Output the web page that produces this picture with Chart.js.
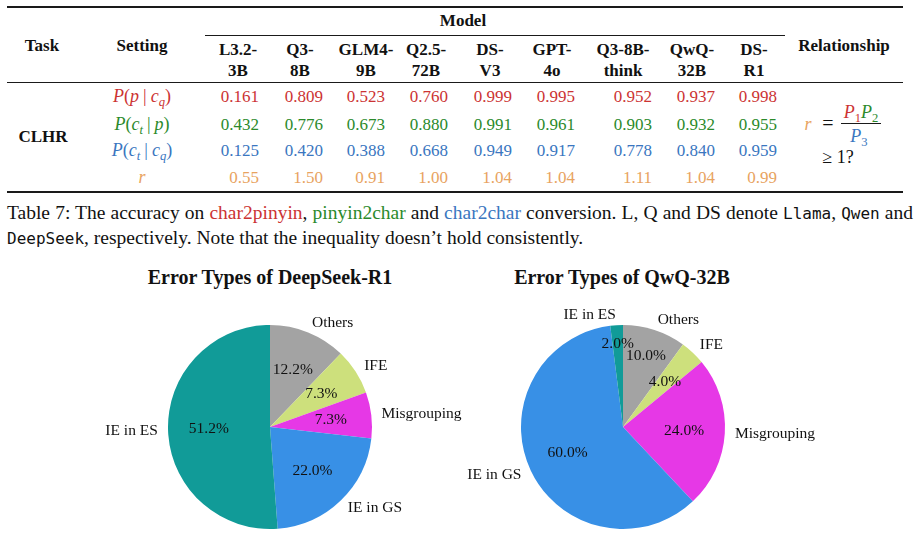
<!DOCTYPE html>
<html>
<head>
<meta charset="utf-8">
<script src="https://cdn.jsdelivr.net/npm/chart.js@4.4.1/dist/chart.umd.min.js"></script>
<style>
  body { margin: 0; width: 920px; height: 535px; background: #fff; position: relative; overflow: hidden;
         font-family: "Liberation Serif", serif; color: #111; }
  .t { position: absolute; white-space: nowrap; font-size: 17px; line-height: 1; }
  .b { font-weight: bold; }
  .m { font-size: 18px; }
  .bar { margin: 0 4px; font-style: normal; }
  .rule { position: absolute; background: #1a1a1a; }
  sub { font-size: 0.7em; vertical-align: -0.28em; line-height: 0; }
  code { font-family: "DejaVu Sans Mono", monospace; font-size: 16px; }
  .cap { position: absolute; left: 7px; font-size: 19.5px; line-height: 1; white-space: nowrap; }
  .ptitle { position: absolute; font-weight: bold; font-size: 20px; line-height: 1; transform: translate(-50%, -50%); white-space: nowrap; }
  canvas { position: absolute; }
</style>
</head>
<body>

<div class="rule" style="left:7px; width:896px; top:6px; height:2px;"></div>
<div class="rule" style="left:205px; width:580px; top:35px; height:1px;"></div>
<div class="rule" style="left:7px; width:896px; top:82px; height:1px;"></div>
<div class="rule" style="left:7px; width:896px; top:191px; height:2px;"></div>

<div id="table"></div>

<div class="cap" style="top:203px; width:906px; text-align:justify; text-align-last:justify;">Table 7: The accuracy on <span style="color:#cc3333">char2pinyin</span>, <span style="color:#2b8a2b">pinyin2char</span> and <span style="color:#3a76c0">char2char</span> conversion. L, Q and DS denote <code>Llama</code>, <code>Qwen</code> and</div>
<div class="cap" style="top:228px;"><code>DeepSeek</code>, respectively. Note that the inequality doesn’t hold consistently.</div>

<div class="ptitle" style="left:270px; top:277px;">Error Types of DeepSeek-R1</div>
<div class="ptitle" style="left:622px; top:277px;">Error Types of QwQ-32B</div>

<canvas id="pieR1" width="390" height="275" style="left:90px; top:260px;"></canvas>
<canvas id="pieQwQ" width="400" height="275" style="left:440px; top:260px;"></canvas>

<script>
// table data
const models = ['L3.2-3B', 'Q3-8B', 'GLM4-9B', 'Q2.5-72B', 'DS-V3', 'GPT-4o', 'Q3-8B-think', 'QwQ-32B', 'DS-R1'];
const pCharPinyin = [0.161, 0.809, 0.523, 0.760, 0.999, 0.995, 0.952, 0.937, 0.998];
const pPinyinChar = [0.432, 0.776, 0.673, 0.880, 0.991, 0.961, 0.903, 0.932, 0.955];
const pCharChar   = [0.125, 0.420, 0.388, 0.668, 0.949, 0.917, 0.778, 0.840, 0.959];
const rRatio      = [0.55, 1.50, 0.91, 1.00, 1.04, 1.04, 1.11, 1.04, 0.99];

// pie data (matplotlib order, counterclockwise from the top)
const errorTypes = ['IE in ES', 'IE in GS', 'Misgrouping', 'IFE', 'Others'];
const r1Shares  = [51.2, 22.0, 7.3, 7.3, 12.2];
const qwqShares = [2.0, 60.0, 24.0, 4.0, 10.0];
const sliceColors = ['#119b98', '#3890e6', '#e638e6', '#cde07c', '#a3a3a3'];

const rowColors = ['#cc3333', '#2b8a2b', '#3a76c0', '#e8a35f'];
const headX = [238, 300, 366, 426, 490, 552, 623, 692, 754];
const numRight = [259, 323, 385, 448, 512, 575, 652, 715, 777];
const rowY = [96, 124, 150, 177];

const table = document.getElementById('table');

function put(html, x, y, align, extra) {
    const d = document.createElement('div');
    d.className = 't' + (extra ? ' ' + extra : '');
    d.innerHTML = html;
    d.style.left = x + 'px';
    d.style.top = y + 'px';
    const tx = align === 'right' ? '-100%' : align === 'left' ? '0' : '-50%';
    d.style.transform = 'translate(' + tx + ', -50%)';
    table.appendChild(d);
    return d;
}

put('Model', 463, 20, 'center', 'b');
put('Task', 42, 45, 'center', 'b');
put('Setting', 142, 45, 'center', 'b');
put('Relationship', 844, 45, 'center', 'b');
put('CLHR', 43, 136, 'center', 'b');

models.forEach((m, i) => {
    const cut = m.lastIndexOf('-') + 1;
    put(m.slice(0, cut), headX[i], 49, 'center', 'b');
    put(m.slice(cut), headX[i], 70, 'center', 'b');
});

const mid = '<span class="bar">|</span>';
const settings = [
    '<i>P</i>(<i>p</i>' + mid + '<i>c</i><sub><i>q</i></sub>)',
    '<i>P</i>(<i>c</i><sub><i>t</i></sub>' + mid + '<i>p</i>)',
    '<i>P</i>(<i>c</i><sub><i>t</i></sub>' + mid + '<i>c</i><sub><i>q</i></sub>)',
    '<i>r</i>'
];
const rows = [pCharPinyin, pPinyinChar, pCharChar, rRatio];

rows.forEach((vals, r) => {
    put(settings[r], 142, rowY[r], 'center', 'm').style.color = rowColors[r];
    vals.forEach((v, i) => {
        put(v.toFixed(r === 3 ? 2 : 3), numRight[i], rowY[r], 'right').style.color = rowColors[r];
    });
});

// relationship formula
put('<i>r</i>', 808, 124, 'center', 'm').style.color = rowColors[3];
put('=', 828, 123, 'center').style.fontSize = '20px';
put('<i style="color:#cc3333">P</i><sub style="color:#cc3333">1</sub><i style="color:#2b8a2b">P</i><sub style="color:#2b8a2b">2</sub>', 861, 112, 'center', 'm');
const bar = document.createElement('div');
bar.className = 'rule';
bar.style.cssText = 'left:841px; width:40px; top:123px; height:1px;';
table.appendChild(bar);
put('<i>P</i><sub>3</sub>', 859, 136, 'center', 'm').style.color = rowColors[2];
put('≥ 1?', 838, 157, 'center', 'm');

// pies
const pieLabels = {
    id: 'pieLabels',
    afterDatasetsDraw(chart, args, opts) {
        const ctx = chart.ctx;
        const meta = chart.getDatasetMeta(0);
        const vals = chart.data.datasets[0].data;
        const total = vals.reduce((a, b) => a + b, 0);
        ctx.save();
        ctx.font = '15.5px "Liberation Serif"';
        ctx.fillStyle = '#111';
        ctx.textBaseline = 'middle';
        meta.data.forEach((arc, i) => {
            const m = (arc.startAngle + arc.endAngle) / 2;
            const r = arc.outerRadius;
            const pd = opts.pctDist ? opts.pctDist[i] : 0.6;
            ctx.textAlign = 'center';
            ctx.fillText((vals[i] / total * 100).toFixed(1) + '%',
                arc.x + Math.cos(m) * r * pd, arc.y + Math.sin(m) * r * pd);
            ctx.textAlign = Math.cos(m) > 0 ? 'left' : 'right';
            ctx.fillText(chart.data.labels[i],
                arc.x + Math.cos(m) * r * 1.1, arc.y + Math.sin(m) * r * 1.1);
        });
        ctx.restore();
    }
};

function drawPie(id, shares, padding, pctDist) {
    // chart.js goes clockwise, so reverse to get matplotlib's counterclockwise order
    new Chart(document.getElementById(id), {
        type: 'pie',
        data: {
            labels: errorTypes.slice().reverse(),
            datasets: [{
                data: shares.slice().reverse(),
                backgroundColor: sliceColors.slice().reverse(),
                borderWidth: 0,
                radius: 102
            }]
        },
        options: {
            responsive: false,
            animation: false,
            layout: { padding: padding },
            plugins: {
                legend: { display: false },
                tooltip: { enabled: false },
                pieLabels: { pctDist: pctDist ? pctDist.slice().reverse() : null }
            }
        },
        plugins: [pieLabels]
    });
}

drawPie('pieR1', r1Shares, { left: 78, right: 108, top: 65, bottom: 6 });
// small slices in the QwQ pie have their percentages pushed outward
drawPie('pieQwQ', qwqShares, { left: 81, right: 115, top: 65, bottom: 6 }, [0.82, 0.6, 0.6, 0.6, 0.73]);
</script>
</body>
</html>
